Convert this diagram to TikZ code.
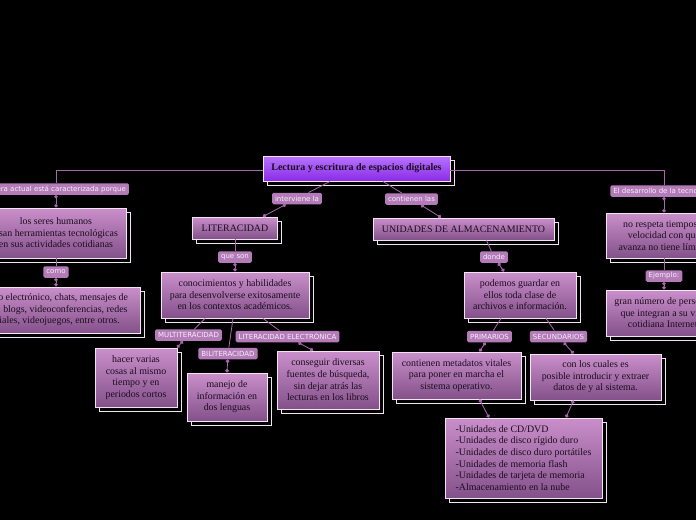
\documentclass[tikz,border=0pt]{standalone}
\usepackage{fontspec}
\setmainfont{Liberation Serif}
\newfontfamily\tagfont{DejaVu Sans}
\usepackage{tikz}
\usetikzlibrary{arrows.meta,shadows}
\definecolor{bxtop}{HTML}{CA8FCB}
\definecolor{bxbot}{HTML}{83518A}
\definecolor{bxline}{HTML}{F2E2F2}
\definecolor{bxtext}{HTML}{1C0C1E}
\definecolor{rttop}{HTML}{B774FF}
\definecolor{rtbot}{HTML}{8A2BE6}
\definecolor{tgfill}{HTML}{B47BB9}
\definecolor{tgtext}{HTML}{F6EEF6}
\definecolor{lncol}{HTML}{A867AC}
\tikzset{
  bx/.style ={rectangle,draw=bxline,line width=0.9pt,top color=bxtop,bottom color=bxbot,
              text=bxtext,align=center,inner sep=2pt,font=\fontsize{9.9}{11.6}\selectfont,
              copy shadow={shadow xshift=4pt,shadow yshift=-4pt}},
  rt/.style ={bx,top color=rttop,bottom color=rtbot,font=\fontsize{10}{11}\selectfont\bfseries},
  tg/.style ={rectangle,rounded corners=1.5pt,fill=tgfill,text=tgtext,inner xsep=3pt,inner ysep=0pt,
              minimum height=11.5pt,font=\tagfont\fontsize{7}{8}\selectfont},
  ln/.style ={draw=lncol,line width=0.8pt,{Circle[length=3.6pt]}-{Circle[length=3.6pt]}},
}
\begin{document}
\begin{tikzpicture}[x=1pt,y=-1pt]
  \fill[black] (0,0) rectangle (696,520);
  \useasboundingbox (0,0) rectangle (696,520);
  \clip (0,0) rectangle (696,520);
  % centre
  \node[rt,minimum width=187pt,minimum height=25pt] (root) at (356.5,168.5) {Lectura y escritura de espacios digitales};
  % left branch
  \node[tg] (tagEra) at (56,189) {La era actual está caracterizada porque};
  \node[bx,minimum width=140pt,minimum height=50pt] (nSeres) at (56,233)
    {los seres humanos\\usan herramientas tecnológicas\\en sus actividades cotidianas};
  \node[tg] (tagComo) at (56,272) {como};
  \node[bx,minimum width=174pt,minimum height=46pt] (nCorreo) at (53,310)
    {correo electrónico, chats, mensajes de\\texto, blogs, videoconferencias, redes\\sociales, videojuegos, entre otros.};
  % literacidad
  \node[tg] (tagInterv) at (297,198.5) {interviene la};
  \node[bx,minimum width=85pt,minimum height=22pt] (lit) at (235,228) {LITERACIDAD};
  \node[tg] (tagQueSon) at (235,257) {que son};
  \node[bx,minimum width=148pt,minimum height=46pt] (nConoc) at (235,295)
    {conocimientos y habilidades\\para desenvolverse exitosamente\\en los contextos académicos.};
  \node[tg] (tagMulti) at (188.5,335) {MULTITERACIDAD};
  \node[bx,minimum width=82pt,minimum height=59pt] (nVarias) at (136,377.5)
    {hacer varias\\cosas al mismo\\tiempo y en\\periodos cortos};
  \node[tg] (tagBili) at (228,353.5) {BILITERACIDAD};
  \node[bx,minimum width=80pt,minimum height=48pt] (nManejo) at (227,397)
    {manejo de\\información en\\dos lenguas};
  \node[tg] (tagElec) at (287.5,336.5) {LITERACIDAD ELECTRÓNICA};
  \node[bx,minimum width=102pt,minimum height=58pt] (nFuentes) at (328,380)
    {conseguir diversas\\fuentes de búsqueda,\\sin dejar atrás las\\lecturas en los libros};
  % unidades
  \node[tg] (tagCont) at (411.5,199) {contienen las};
  \node[bx,minimum width=181pt,minimum height=22pt] (unid) at (463.5,229) {UNIDADES DE ALMACENAMIENTO};
  \node[tg] (tagDonde) at (494,257) {donde};
  \node[bx,minimum width=112pt,minimum height=46pt] (nGuardar) at (520,295)
    {podemos guardar en\\ellos toda clase de\\archivos e información.};
  \node[tg] (tagPrim) at (489.5,336.5) {PRIMARIOS};
  \node[bx,minimum width=129pt,minimum height=47pt] (nMeta) at (456.5,375.5)
    {contienen metadatos vitales\\para poner en marcha el\\sistema operativo.};
  \node[tg] (tagSec) at (558.5,336.5) {SECUNDARIOS};
  \node[bx,minimum width=131pt,minimum height=46pt] (nCuales) at (595.5,377)
    {con los cuales es\\posible introducir y extraer\\datos de y al sistema.};
  \node[bx,align=left,minimum width=157pt,minimum height=80pt] (nLista) at (523.5,458)
    {-Unidades de CD/DVD\\-Unidades de disco rígido duro\\-Unidades de disco duro portátiles\\-Unidades de memoria flash\\-Unidades de tarjeta de memoria\\-Almacenamiento en la nube};
  % right branch
  \node[tg] (tagDes) at (664,191) {El desarrollo de la tecnología};
  \node[bx,minimum width=116pt,minimum height=45pt] (nRespeta) at (664,235.5)
    {no respeta tiempos y\\velocidad con que\\avanza no tiene límites};
  \node[tg] (tagEj) at (664,276) {Ejemplo:};
  \node[bx,minimum width=116pt,minimum height=46pt] (nGran) at (664,313)
    {gran número de personas\\que integran a su vida\\cotidiana Internet.};
  % links
  \draw[ln] ([yshift=-1.5pt]root.west) -| (tagEra) -- (nSeres.north);
  \draw[ln] (nSeres.south) -- (tagComo) -- (tagComo |- nCorreo.north);
  \draw[ln] ([yshift=-1.5pt]root.east) -| (tagDes) -- (nRespeta.north);
  \draw[ln] (nRespeta.south) -- (tagEj) -- (nGran.north);
  \draw[ln] ([xshift=-26.5pt]root.south) -- (tagInterv) -- ([xshift=28pt]lit.north);
  \draw[ln] ([xshift=26.5pt]root.south) -- (tagCont) -- ([xshift=-22.5pt]unid.north);
  \draw[ln] (lit.south) -- (tagQueSon) -- (nConoc.north);
  \draw[ln] ([xshift=-30pt]nConoc.south) -- (tagMulti) -- ([xshift=41pt]nVarias.north);
  \draw[ln] ([xshift=-2pt]nConoc.south) -- (tagBili) -- (nManejo.north);
  \draw[ln] ([xshift=28pt]nConoc.south) -- (tagElec) -- ([xshift=-15pt]nFuentes.north);
  \draw[ln] ([xshift=23pt]unid.south) -- (tagDonde) -- ([xshift=-16pt]nGuardar.north);
  \draw[ln] ([xshift=-19pt]nGuardar.south) -- (tagPrim) -- ([xshift=23pt]nMeta.north);
  \draw[ln] ([xshift=26pt]nGuardar.south) -- (tagSec) -- ([xshift=-22pt]nCuales.north);
  \draw[ln] ([xshift=23pt]nMeta.south) -- ([xshift=-34.5pt]nLista.north);
  \draw[ln] ([xshift=-22pt]nCuales.south) -- ([xshift=42.5pt]nLista.north);
\end{tikzpicture}
\end{document}
